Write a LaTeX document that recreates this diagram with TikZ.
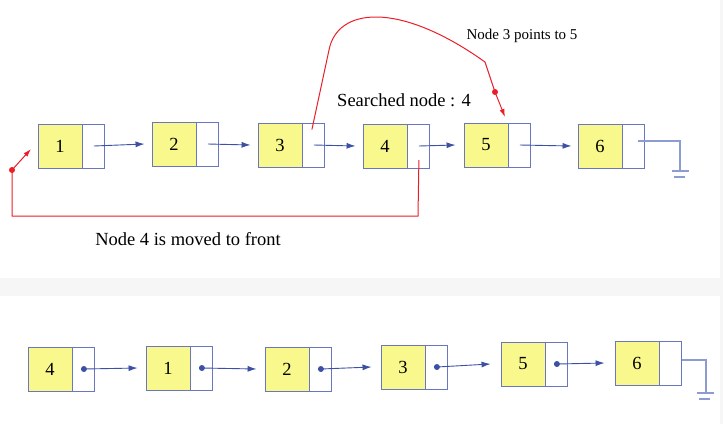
\documentclass[tikz,border=0pt]{standalone}
\usepackage{fontspec}
\setmainfont{Liberation Serif}
\usetikzlibrary{positioning,arrows.meta}

\definecolor{cellfill}{RGB}{248,248,140}
\definecolor{cellline}{RGB}{105,120,190}
\definecolor{linkblue}{RGB}{60,80,165}
\definecolor{nullblue}{RGB}{140,155,208}
\definecolor{movered}{RGB}{235,30,40}
\definecolor{pagegray}{RGB}{246,246,246}

\begin{document}
\begin{tikzpicture}[x=1pt,y=-1pt,
  data/.style={draw=cellline,fill=cellfill,line width=0.9pt,minimum width=44pt,minimum height=44pt,inner sep=0pt,font=\fontsize{18.5}{20}\selectfont},
  ptr/.style={draw=cellline,fill=white,line width=0.9pt,minimum width=22pt,minimum height=44pt,inner sep=0pt},
  link/.style={linkblue,line width=0.9pt,-{Latex[length=9pt,width=6pt]}},
  nulllink/.style={nullblue,line width=1.4pt},
  move/.style={movered,line width=1pt},
  movetip/.style={movered,line width=1pt,-{Latex[length=8pt,width=5pt]}},
  caption/.style={font=\fontsize{18.5}{20}\selectfont,inner sep=0pt}]
  \useasboundingbox (0,0) rectangle (723,424);
  \fill[pagegray] (0,0) rectangle (723,424);
  \fill[white] (0,0) rectangle (720,278);
  \fill[white] (0,296) rectangle (720,424);

  % list before the move
  \node (t1) [data] at (60,146) {1};
  \node (t1p) [ptr, right=0pt of t1] {};
  \node (t2) [data] at (174,144) {2};
  \node (t2p) [ptr, right=0pt of t2] {};
  \node (t3) [data] at (280,145) {3};
  \node (t3p) [ptr, right=0pt of t3] {};
  \node (t4) [data] at (385,146) {4};
  \node (t4p) [ptr, right=0pt of t4] {};
  \node (t5) [data] at (486,145) {5};
  \node (t5p) [ptr, right=0pt of t5] {};
  \node (t6) [data] at (600,146) {6};
  \node (t6p) [ptr, right=0pt of t6] {};
  \draw[link] (t1p.center) -- ([xshift=-7pt]t2.west);
  \draw[link] (t2p.center) -- ([xshift=-7pt]t3.west);
  \draw[link] (t3p.center) -- ([xshift=-7pt]t4.west);
  \draw[link] (t4p.center) -- ([xshift=-8pt]t5.west);
  \draw[link] (t5p.center) -- ([xshift=-6pt]t6.west);
  \coordinate (tnull) at (680,141);
  \draw[nulllink] ([shift={(4,-5)}]t6p.center) -- (tnull) -- ++(0,30);
  \draw[nulllink] (672,171) -- (689,171);
  \draw[nulllink] (674,177) -- (685,177);

  \node (searched) [caption] at (404,100) {Searched node : 4};
  \node (points) [caption,font=\fontsize{15}{17}\selectfont] at (522,36) {Node 3 points to 5};
  \node (moved) [caption] at (188,239) {Node 4 is moved to front};

  % red connectors
  \coordinate (s3) at ([shift={(-2,7)}]t3p.north);
  \coordinate (d5) at (495,92);
  \coordinate (e5) at (505,117);
  \draw[move] (s3) -- (329,50) .. controls (337,8) and (398,0) .. (485,62) -- (d5);
  \draw[movetip] (d5) -- (e5);
  \fill[movered] (d5) circle (3pt);
  \coordinate (s4) at ([yshift=-14pt]t4p.center);
  \coordinate (d1) at (12,170);
  \coordinate (e1) at (31,149);
  \draw[move] (s4) -- (418,216) -| (d1);
  \draw[movetip] (d1) -- (e1);
  \fill[movered] (d1) circle (3pt);

  % list after the move
  \node (b4) [data] at (50,369) {4};
  \node (b4p) [ptr, right=0pt of b4] {};
  \node (b1) [data] at (168,368) {1};
  \node (b1p) [ptr, right=0pt of b1] {};
  \node (b2) [data] at (287,369) {2};
  \node (b2p) [ptr, right=0pt of b2] {};
  \node (b3) [data] at (403,367) {3};
  \node (b3p) [ptr, right=0pt of b3] {};
  \node (b5) [data] at (523,364) {5};
  \node (b5p) [ptr, right=0pt of b5] {};
  \node (b6) [data] at (637,363) {6};
  \node (b6p) [ptr, right=0pt of b6] {};
  \draw[link] (b4p.center) -- ([xshift=-8pt]b1.west);
  \draw[link] (b1p.center) -- ([xshift=-8pt]b2.west);
  \draw[link] (b2p.center) -- ([xshift=-9pt]b3.west);
  \draw[link] (b3p.center) -- ([xshift=-10pt]b5.west);
  \draw[link] (b5p.center) -- ([xshift=-10pt]b6.west);
  \fill[linkblue] (b4p.center) circle (3pt);
  \fill[linkblue] (b1p.center) circle (3pt);
  \fill[linkblue] (b2p.center) circle (3pt);
  \fill[linkblue] (b3p.center) circle (3pt);
  \fill[linkblue] (b5p.center) circle (3pt);
  \coordinate (bnull) at (706,360);
  \draw[nulllink] ([yshift=3pt]b6p.east) -- (bnull) -- ++(0,33);
  \draw[nulllink] (697,393) -- (714,393);
  \draw[nulllink] (699,399) -- (710,399);
\end{tikzpicture}
\end{document}
